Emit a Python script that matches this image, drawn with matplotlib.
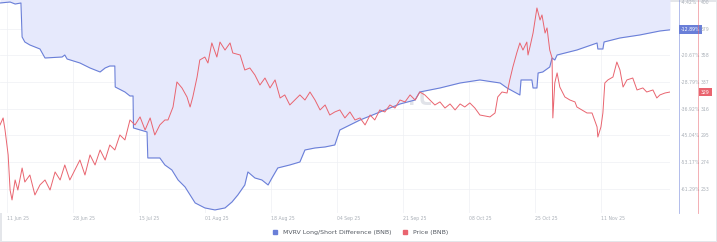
import pandas as pd
import matplotlib
matplotlib.use("Agg")
import matplotlib.pyplot as plt
import matplotlib.transforms as mtransforms
from matplotlib.lines import Line2D

start = pd.Timestamp("2025-06-11")

# MVRV long/short difference (%), day offsets from 11 Jun
mvrv_days = [-1.8, 0.8, 2.1, 3.6, 3.9, 4.6, 5.9, 8.5, 9.8, 14.2, 14.9, 15.5, 18.8, 21.4, 24.0,
             25.3, 26.5, 27.8, 27.9, 30.4, 31.7, 32.5, 32.6, 36.1, 36.3, 39.4, 40.7, 42.5, 44.1,
             45.9, 47.2, 48.5, 51.0, 53.6, 56.2, 58.0, 59.5, 61.3, 62.1, 63.9, 65.7, 67.3, 68.3,
             69.8, 72.9, 75.5, 76.8, 79.4, 82.0, 84.5, 85.8, 88.4, 91.0, 93.6, 97.4, 101.3, 105.2,
             106.4, 111.6, 116.8, 121.9, 127.1, 128.9, 132.2, 132.5, 135.3, 135.6, 136.6, 136.9,
             138.1, 139.9, 140.5, 141.2, 141.8, 146.9, 152.1, 152.3, 153.6, 153.9, 158.0, 163.1,
             168.3, 170.9]
mvrv = [-4.72, -4.42, -5.03, -4.72, -15.07, -16.59, -17.50, -18.72, -21.46, -21.16, -20.55,
        -21.77, -22.98, -24.50, -25.72, -24.50, -23.90, -23.90, -30.29, -31.81, -33.02, -33.02,
        -42.76, -43.98, -51.89, -51.89, -54.02, -55.54, -58.59, -60.72, -63.15, -65.58, -67.10,
        -67.71, -67.10, -65.28, -63.15, -60.11, -56.15, -57.98, -58.59, -60.11, -57.98, -54.93,
        -54.02, -53.11, -49.46, -48.85, -48.54, -47.93, -43.37, -41.85, -40.33, -39.11, -37.29,
        -35.46, -34.24, -31.81, -30.59, -29.07, -28.15, -29.07, -30.59, -32.72, -28.15, -28.15,
        -30.59, -30.59, -26.03, -25.72, -24.20, -21.46, -22.07, -20.55, -19.03, -16.90, -18.72,
        -18.72, -16.59, -15.37, -14.46, -13.24, -12.89]

# BNB price
price_days = [-1.8, -1.0, -0.5, 0.3, 0.8, 1.3, 2.1, 2.8, 3.9, 4.6, 5.9, 7.2, 8.5, 9.8, 11.1,
              12.4, 13.7, 14.9, 16.2, 17.5, 18.8, 20.1, 21.4, 22.7, 24.0, 25.3, 26.5, 27.8, 29.1,
              30.4, 31.7, 33.0, 34.3, 35.6, 36.9, 38.1, 39.4, 40.7, 41.5, 42.8, 43.8, 45.1, 46.4,
              47.2, 47.9, 49.0, 49.7, 51.0, 51.8, 52.8, 54.1, 54.9, 56.2, 57.5, 58.2, 60.1, 61.3,
              62.6, 63.9, 65.2, 66.5, 67.8, 69.1, 70.4, 71.6, 72.9, 74.2, 75.5, 76.8, 78.1, 79.4,
              80.7, 82.0, 83.2, 84.5, 85.8, 87.1, 88.4, 89.7, 91.0, 92.3, 93.6, 94.8, 96.1, 97.4,
              98.7, 100.0, 101.3, 102.6, 103.9, 105.2, 106.4, 107.7, 109.0, 110.3, 111.6, 112.9,
              114.2, 115.5, 116.8, 118.0, 119.3, 120.6, 121.9, 124.5, 125.8, 126.5, 127.6, 128.9,
              129.6, 130.4, 131.4, 132.2, 133.0, 134.0, 134.3, 134.8, 135.6, 136.6, 137.4, 137.9,
              138.7, 139.2, 139.9, 140.5, 140.7, 141.2, 141.8, 142.5, 143.8, 145.1, 146.4, 146.9,
              148.2, 149.5, 150.8, 152.1, 152.3, 153.1, 153.6, 154.1, 154.9, 156.2, 157.2, 158.0,
              158.8, 159.8, 161.3, 162.4, 163.9, 164.9, 166.5, 167.5, 168.3, 169.6, 170.9]
price = [303.3, 308.8, 299.3, 279.7, 252.1, 244.3, 260.0, 252.1, 269.4, 258.4, 263.9, 248.2,
         256.1, 260.0, 252.1, 266.3, 260.0, 271.8, 260.0, 267.9, 275.7, 263.9, 279.7, 271.8,
         283.6, 275.7, 287.5, 283.6, 295.4, 291.5, 307.2, 303.3, 309.6, 299.3, 308.8, 295.4,
         303.3, 307.2, 307.2, 317.4, 337.1, 332.4, 325.3, 317.4, 325.3, 341.0, 354.4, 356.7,
         352.0, 367.8, 356.7, 368.5, 362.2, 367.8, 359.9, 358.3, 346.5, 348.1, 342.6, 334.7,
         340.2, 332.4, 338.7, 324.5, 326.9, 319.0, 322.9, 326.9, 322.9, 329.2, 322.9, 315.1,
         319.0, 311.1, 313.5, 315.1, 308.8, 313.5, 307.2, 308.8, 303.3, 311.1, 307.2, 315.1,
         313.5, 319.0, 316.6, 322.9, 321.4, 326.9, 322.9, 329.2, 326.9, 322.9, 319.0, 321.4,
         316.6, 319.8, 315.1, 319.8, 317.4, 320.6, 316.6, 311.1, 309.6, 312.7, 325.3, 329.2,
         328.4, 338.7, 348.9, 359.9, 367.8, 362.2, 368.5, 358.3, 364.6, 375.6, 395.3, 385.8,
         389.8, 375.6, 379.6, 362.2, 356.0, 308.8, 336.3, 344.2, 333.1, 325.3, 322.9, 321.4,
         317.4, 315.1, 312.7, 312.7, 301.7, 293.8, 301.7, 312.7, 336.3, 338.7, 341.0, 352.8,
         346.5, 333.1, 338.7, 340.2, 330.8, 332.4, 329.2, 330.8, 324.5, 326.9, 328.4, 329.2]

mvrv_ticks = [-4.42, -12.54, -20.67, -28.79, -36.92, -45.04, -53.17, -61.29]
price_ticks = [400, 379, 358, 337, 316, 295, 274, 253]
tick_days = [0, 17, 34, 51, 68, 85, 102, 119, 136, 153]

blue = "#6a7fd8"
red = "#e9646f"
grey = "#aab0b8"

mvrv_dates = [start + pd.Timedelta(days=d) for d in mvrv_days]
price_dates = [start + pd.Timedelta(days=d) for d in price_days]
tick_dates = [start + pd.Timedelta(days=d) for d in tick_days]

fig = plt.figure(figsize=(7.17, 2.42), dpi=100)
fig.patch.set_edgecolor("#e4e6ea")
fig.patch.set_linewidth(1)
ax = fig.add_axes([0, 0.12, 670 / 717, 0.88])
ax2 = ax.twinx()

ax.fill_between(mvrv_dates, mvrv, 0, color="#e6e9fc", lw=0)
ax.plot(mvrv_dates, mvrv, color=blue, lw=0.8)
ax2.plot(price_dates, price, color=red, lw=0.7)

ax.set_ylim(-68.63, -3.81)
ax2.set_ylim(234.05, 401.57)
ax.set_xlim(start + pd.Timedelta(days=-1.8), start + pd.Timedelta(days=170.9))

for a in (ax, ax2):
    for s in a.spines.values():
        s.set_visible(False)

ax.grid(True, color="#eef0f4", lw=0.5)
ax.set_axisbelow(True)

ax.yaxis.tick_right()
ax.set_yticks(mvrv_ticks)
ax.set_yticklabels([f"{v:.2f}%" for v in mvrv_ticks])
ax.tick_params(axis="y", length=0, pad=8, labelsize=3.3, labelcolor=grey)
ax2.set_yticks(price_ticks)
ax2.set_yticklabels([str(v) for v in price_ticks])
ax2.tick_params(axis="y", length=0, pad=22, labelsize=3.3, labelcolor=grey)

ax.set_xticks(tick_dates)
ax.set_xticklabels([d.strftime("%d %b %y") for d in tick_dates])
ax.tick_params(axis="x", length=0, pad=2.5, labelsize=3.3, labelcolor=grey)
for lbl in ax.get_xticklabels():
    lbl.set_horizontalalignment("left")

# axis lines on the right
fig.add_artist(Line2D([679 / 717, 679 / 717], [0.12, 1], color=blue, lw=0.6, alpha=0.6))
fig.add_artist(Line2D([698 / 717, 698 / 717], [0.12, 1], color=red, lw=0.6, alpha=0.6))

# value badges
tb = mtransforms.blended_transform_factory(ax.transAxes, ax.transData)
ax.text(681 / 670, mvrv[-1], f"{mvrv[-1]:.2f}%", transform=tb, fontsize=3.3, color="white",
        va="center", ha="left", clip_on=False,
        bbox=dict(boxstyle="square,pad=0.4", fc=blue, ec="none"))
tb2 = mtransforms.blended_transform_factory(ax2.transAxes, ax2.transData)
ax2.text(701 / 670, price[-1], f"{price[-1]:.0f}", transform=tb2, fontsize=3.3, color="white",
         va="center", ha="left", clip_on=False,
         bbox=dict(boxstyle="square,pad=0.4", fc=red, ec="none"))

# watermark
ax.text(0.5, 0.56, "santiment", transform=ax.transAxes, fontsize=28, color="#c4c8d4",
        alpha=0.5, ha="center", va="center", zorder=0)

handles = [Line2D([], [], marker="s", ls="none", color=blue, markersize=3),
           Line2D([], [], marker="s", ls="none", color=red, markersize=3)]
fig.legend(handles, ["MVRV Long/Short Difference (BNB)", "Price (BNB)"], loc="center",
           bbox_to_anchor=(0.5, 1 - 232 / 242), ncol=2, frameon=False, fontsize=4.5,
           handletextpad=0.2, columnspacing=1.2, labelcolor="#555a62")

fig.savefig("out.png", dpi=100)
